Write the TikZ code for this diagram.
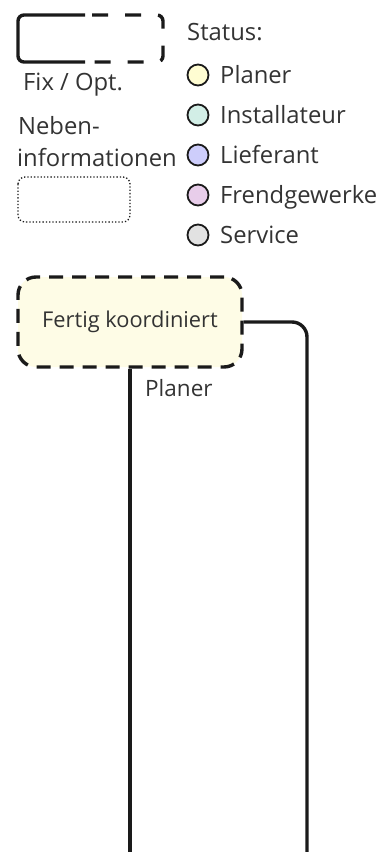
\documentclass[tikz,border=0pt]{standalone}
\usepackage{fontspec}
\setmainfont{Open Sans}
\definecolor{inkline}{HTML}{1A1A1A}
\definecolor{inktext}{HTML}{333333}
\definecolor{planerfill}{HTML}{FEFCE6}
\definecolor{cPlaner}{HTML}{FFFDD2}
\definecolor{cInstall}{HTML}{D2EEE6}
\definecolor{cLiefer}{HTML}{CDCDFB}
\definecolor{cFremd}{HTML}{E8CDEA}
\definecolor{cService}{HTML}{E2E2E2}
\tikzset{
  lbl/.style={font=\fontsize{23.8}{28}\selectfont, text=inktext, inner sep=0pt},
  dot/.style={circle, draw=inkline, line width=1.8pt, minimum size=21pt, inner sep=0pt},
  task/.style={draw=inkline, line width=3.4pt, dash pattern=on 14pt off 9pt,
    rounded corners=18pt, fill=planerfill, minimum width=224pt, minimum height=90pt,
    font=\fontsize{21.8}{26}\selectfont, text=inktext},
  wire/.style={draw=inkline, line width=3.4pt, rounded corners=15pt},
}
\begin{document}
\begin{tikzpicture}[x=1pt, y=-1pt]
\useasboundingbox (0,0) rectangle (385,852);

% legend: fixed (solid) / optional (dashed) frame
\draw[inkline, line width=3.4pt, rounded corners=6pt]
  (85,15) -- (18,15) -- (18,62) -- (85,62);
\draw[inkline, line width=3.4pt, rounded corners=6pt,
      dash pattern=on 16pt off 17pt, dash phase=26pt]
  (85,15) -- (163,15) -- (163,62) -- (85,62);
\node[lbl, anchor=base west] (fixopt) at (23,90) {Fix / Opt.};

% legend: secondary information
\node[lbl, anchor=base west] (neben1) at (18,134) {Neben-};
\node[lbl, anchor=base west] (neben2) at (17,166) {informationen};
\draw[inkline, line width=1.3pt, dotted, rounded corners=7pt]
  (18,177) rectangle (130,222);

% legend: status colours
\node[lbl, anchor=base west] (status) at (187,40) {Status:};
\foreach \y/\c/\t/\n in {75/cPlaner/Planer/pl, 115/cInstall/Installateur/in,
    155/cLiefer/Lieferant/li, 195/cFremd/Frendgewerke/fr, 235/cService/Service/se}{
  \node[dot, fill=\c] (dot\n) at (198,\y) {};
  \node[lbl, anchor=base west] (txt\n) at (220,\y+8) {\t};
}

% task node with a dashed (optional) border
\node[task] (koord) at (130,322) {Fertig koordiniert};

% outgoing connectors
\coordinate (downA) at (130,852);
\coordinate (downB) at (307,852);
\draw[wire] (koord.south) -- (downA);
\draw[wire] (koord.east) -- (koord.east -| downB) -- (downB);
\node[lbl, font=\fontsize{22.5}{27}\selectfont, anchor=base west] (planer) at (145,396) {Planer};
\end{tikzpicture}
\end{document}
